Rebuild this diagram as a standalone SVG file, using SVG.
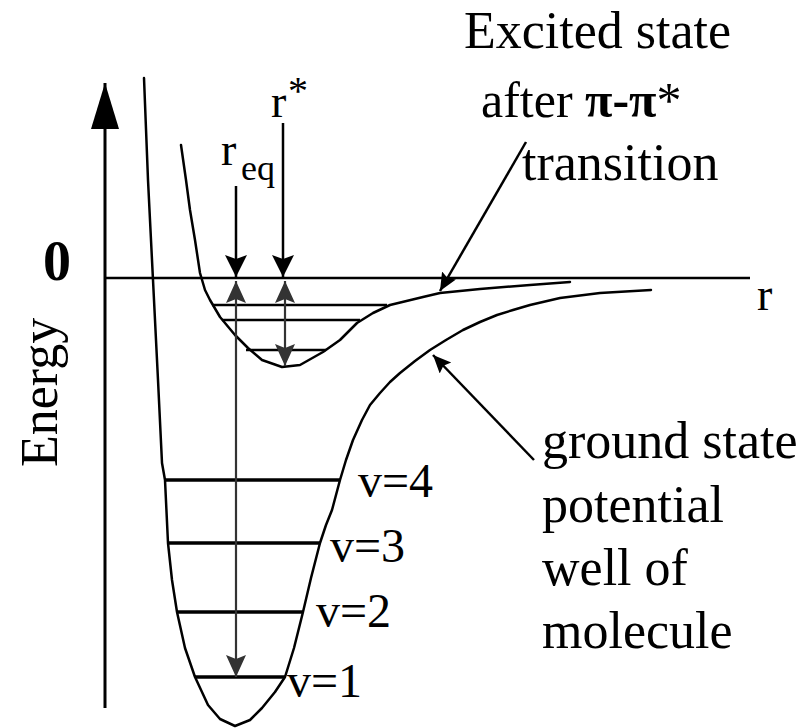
<svg xmlns="http://www.w3.org/2000/svg" width="808" height="728" viewBox="0 0 808 728">
<style>
.c{fill:none;stroke:#000;stroke-width:2.5;stroke-linejoin:round;stroke-linecap:round}
.lv{stroke:#000;stroke-width:3.5}
.lx{stroke:#000;stroke-width:2.5}
.g{stroke:#333;stroke-width:2.2;fill:none}
.k{stroke:#000;stroke-width:2.5;fill:none}
</style>
<defs>
<marker id="ab" markerUnits="userSpaceOnUse" markerWidth="24" markerHeight="24" refX="22" refY="11" orient="auto"><path d="M0,0 L22,11 L0,22 L4,11 z" fill="#000"/></marker>
<marker id="ag" markerUnits="userSpaceOnUse" markerWidth="24" markerHeight="24" refX="22" refY="10" orient="auto-start-reverse"><path d="M0,0 L22,10 L0,20 L4,10 z" fill="#333"/></marker>
<marker id="al" markerUnits="userSpaceOnUse" markerWidth="20" markerHeight="20" refX="18" refY="8" orient="auto"><path d="M0,0 L18,8 L0,16 L3,8 z" fill="#000"/></marker>
<marker id="ax" markerUnits="userSpaceOnUse" markerWidth="50" markerHeight="50" refX="46" refY="14" orient="auto"><path d="M0,0 L46,14 L0,28 z" fill="#000"/></marker>
</defs>

<g id="axes">
<line x1="105" y1="708" x2="105" y2="83" stroke="#000" stroke-width="3" marker-end="url(#ax)"/>
<line x1="105" y1="278" x2="750" y2="278" stroke="#000" stroke-width="2.5"/>
<text x="43" y="280" font-size="56" font-weight="bold" font-family="Liberation Serif">0</text>
<text font-size="52" font-family="Liberation Serif" transform="translate(57,467) rotate(-90)">Energy</text>
<text x="757" y="310" font-size="46" font-family="Liberation Serif">r</text>
</g>

<g id="ground-state">
<polyline class="c" points="144,78 148,180 153,280 158,380 162,463 165,480 168,543 172,580 177,612 185,648 195,677 208,705 220,719 235,726 250,720 262,708 275,692 285,677 294,648 303,612 311,578 320,543 326,525 332,510 340,480 346,460 353,440 362,420 370,405 380,393 390,382 400,373 415,361 430,350 446,340 463,330 480,322 497,315 513,310 530,305 560,298 600,293 651,290"/>
<line class="lv" x1="165" y1="480" x2="340" y2="480"/>
<line class="lv" x1="168" y1="543" x2="320" y2="543"/>
<line class="lv" x1="177" y1="612" x2="303" y2="612"/>
<line class="lv" x1="195" y1="677" x2="285" y2="677"/>
<text x="358" y="497" font-size="48" font-family="Liberation Serif">v=4</text>
<text x="330" y="562" font-size="48" font-family="Liberation Serif">v=3</text>
<text x="316" y="627" font-size="48" font-family="Liberation Serif">v=2</text>
<text x="287" y="697" font-size="48" font-family="Liberation Serif">v=1</text>
</g>

<g id="excited-state">
<polyline class="c" points="181,145 186,180 190,210 195,240 200,273 205,290 210,300 220,317 235,335 248,348 262,360 282,367 300,365 323,352 340,340 357,323 373,313 390,305 423,297 440,293 480,289 530,285 570,282"/>
<line class="lx" x1="212" y1="305" x2="387" y2="305"/>
<line class="lx" x1="222" y1="320" x2="360" y2="320"/>
<line class="lx" x1="246" y1="350" x2="326" y2="350"/>
</g>

<g id="labels">
<text x="464" y="48" font-size="52" font-family="Liberation Serif">Excited state</text>
<text x="481" y="117" font-size="50" font-family="Liberation Serif">after <tspan font-weight="bold">π-π</tspan>*</text>
<text x="522" y="180" font-size="52" font-family="Liberation Serif">transition</text>
<text x="542" y="458" font-size="52" font-family="Liberation Serif">ground state</text>
<text x="542" y="522" font-size="52" font-family="Liberation Serif">potential</text>
<text x="542" y="585" font-size="52" font-family="Liberation Serif">well of</text>
<text x="542" y="648" font-size="52" font-family="Liberation Serif">molecule</text>
<text x="221" y="165" font-size="46" font-family="Liberation Serif">r</text>
<text x="241" y="180" font-size="36" font-family="Liberation Serif">eq</text>
<text x="271" y="117" font-size="46" font-family="Liberation Serif">r</text>
<text x="288" y="104" font-size="40" font-family="Liberation Serif">*</text>
</g>

<g id="connectors">
<line class="k" x1="236" y1="186" x2="236" y2="277" marker-end="url(#ab)"/>
<line class="k" x1="283" y1="123" x2="283" y2="277" marker-end="url(#ab)"/>
<line class="g" x1="236" y1="281" x2="236" y2="677" marker-start="url(#ag)" marker-end="url(#ag)"/>
<line class="g" x1="285" y1="281" x2="285" y2="366" marker-start="url(#ag)" marker-end="url(#ag)"/>
<line class="k" x1="526" y1="142" x2="440" y2="291" marker-end="url(#al)"/>
<line class="k" x1="534" y1="460" x2="433" y2="355" marker-end="url(#al)"/>
</g>
</svg>
